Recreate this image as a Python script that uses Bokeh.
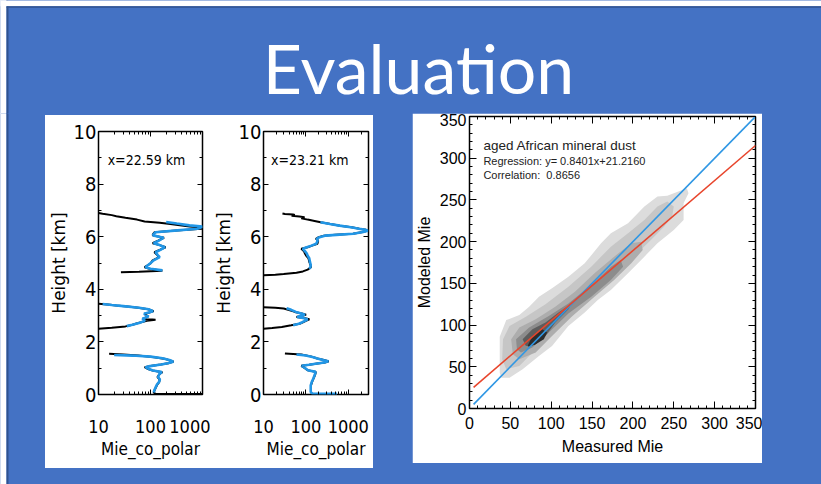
import numpy as np
from bokeh.plotting import figure
from bokeh.layouts import row, column
from bokeh.models import (Range1d, FixedTicker, NumeralTickFormatter, LinearAxis,
                          LogAxis, Label, Spacer, CustomJSTickFormatter)
from bokeh.embed import file_html
from bokeh.resources import INLINE
from bokeh.core.properties import value

nan = np.nan

# ---------------- slide text ----------------
title_text = "Evaluation"

# ---------------- backscatter profiles ----------------
# profile at x = 22.59 km : lidar (black) and model (blue), layers separated by NaN
p1_obs_h = [6.90, 6.87, 6.82, 6.78, 6.72, 6.65, 6.58, 6.53, 6.48, 6.43, 6.39, 6.34, 6.30, 6.24, 6.17,
            6.10, 6.05, 5.96, 5.85, 5.75, 5.68, 5.60, 5.50, 5.41, 5.30, 5.22, 5.10, 4.98, 4.84, 4.78,
            4.71, 4.67, 4.65, nan,
            3.45, 3.42, 3.38, 3.34, 3.30, 3.24, 3.17, 3.12, 3.07, 2.97, 2.92, 2.88, 2.84, 2.80, 2.72,
            2.65, 2.59, 2.54, 2.50, nan,
            1.55, 1.52, 1.48, 1.42, 1.35, 1.25, 1.19, 1.14, 1.08, 1.04, 0.97, 0.91, 0.85, 0.78, 0.66,
            0.57, 0.47, 0.38, 0.28, 0.15, 0.08, 0.03, 0.02]
p1_obs_mie = [10, 12, 18, 22, 33, 55, 77, 150, 241, 400, 567, 1050, 950, 316, 119,
              112, 110, 182, 140, 110, 150, 195, 150, 119, 135, 147, 110, 100, 77, 96,
              169, 60, 27, nan,
              10, 15, 22, 40, 58, 90, 115, 95, 77, 89, 80, 72, 125, 85, 58,
              45, 33, 18, 10, nan,
              16, 30, 58, 119, 195, 278, 220, 158, 100, 77, 90, 110, 169, 150, 136,
              150, 147, 135, 128, 119, 115, 125, 1000]
p1_mod_h = [6.56, 6.50, 6.43, 6.39, 6.34, 6.30, 6.24, 6.17, 6.10, 6.05, 5.96, 5.85, 5.75, 5.68, 5.60,
            5.50, 5.41, 5.30, 5.22, 5.10, 4.98, 4.84, 4.78, 4.72, nan,
            3.44, 3.40, 3.36, 3.30, 3.24, 3.17, 3.12, 3.07, 2.97, 2.88, 2.80, 2.72, 2.65, 2.60, nan,
            1.50, 1.48, 1.44, 1.38, 1.30, 1.25, 1.19, 1.14, 1.08, 1.04, 0.97, 0.91, 0.85, 0.78, 0.66,
            0.57, 0.47, 0.38, 0.28, 0.15, 0.08]
p1_mod_mie = [200, 320, 560, 1000, 900, 800, 330, 125, 115, 112, 178, 145, 115, 150, 190,
              155, 125, 138, 150, 115, 98, 80, 100, 170, nan,
              12, 18, 30, 60, 92, 112, 92, 75, 92, 70, 78, 60, 45, 35, nan,
              20, 45, 100, 170, 240, 275, 215, 160, 98, 80, 92, 112, 165, 148, 140,
              152, 145, 133, 126, 118, 116]

# profile at x = 23.21 km
p2_obs_h = [6.88, 6.86, 6.84, 6.83, 6.80, 6.77, 6.74, 6.70, 6.65, 6.60, 6.55, 6.48, 6.42, 6.36, 6.30,
            6.26, 6.23, 6.18, 6.11, 6.07, 6.04, 5.98, 5.92, 5.85, 5.73, 5.66, 5.60, 5.54, 5.45, 5.36,
            5.28, 5.18, 5.03, 4.93, 4.84, 4.75, 4.68, 4.63, 4.58, 4.55, 4.53, nan,
            3.32, 3.30, 3.27, 3.20, 3.14, 3.08, 3.03, 2.99, 2.95, 2.91, 2.86, 2.80, 2.74, 2.69, 2.63,
            2.57, 2.53, 2.50, nan,
            1.56, 1.54, 1.52, 1.45, 1.37, 1.30, 1.26, 1.22, 1.18, 1.13, 1.09, 1.00, 0.92, 0.86, 0.75,
            0.61, 0.48, 0.35, 0.22, 0.10, 0.05]
p2_obs_mie = [28, 32, 50, 55, 46, 70, 93, 78, 110, 160, 223, 380, 640, 1200, 1830,
              2600, 2900, 2200, 1290, 500, 266, 200, 172, 195, 187, 140, 110, 78, 90, 95,
              101, 115, 121, 128, 132, 110, 85, 60, 30, 19, 10, nan,
              10, 19, 30, 42, 55, 80, 101, 80, 60, 90, 121, 100, 85, 71, 45,
              27, 16, 10, nan,
              32, 50, 78, 130, 187, 280, 346, 280, 187, 120, 78, 95, 110, 172, 165,
              152, 140, 132, 132, 132, 135]
p2_mod_h = [6.55, 6.48, 6.42, 6.36, 6.30, 6.26, 6.23, 6.18, 6.11, 6.07, 6.04, 5.98, 5.92, 5.85, 5.73,
            5.66, 5.60, 5.54, 5.45, 5.36, 5.28, 5.18, 5.03, 4.93, 4.84, 4.78, nan,
            3.28, 3.22, 3.14, 3.08, 3.03, 2.99, 2.95, 2.91, 2.86, 2.80, 2.74, 2.69, 2.63, nan,
            1.52, 1.48, 1.42, 1.37, 1.30, 1.26, 1.22, 1.18, 1.13, 1.09, 1.00, 0.92, 0.86, 0.75, 0.61,
            0.48, 0.35, 0.22, 0.10, 0.04, 0.03]
p2_mod_mie = [220, 370, 620, 1150, 1800, 2600, 2900, 2250, 1300, 520, 280, 210, 180, 190, 175,
              135, 105, 85, 95, 105, 110, 120, 125, 130, 128, 120, nan,
              35, 45, 58, 78, 95, 78, 62, 85, 110, 95, 80, 68, 50, nan,
              60, 100, 150, 185, 270, 340, 275, 185, 118, 80, 97, 112, 170, 162, 150,
              138, 130, 130, 130, 140, 540]

profile_names = ["x=22.59 km", "x=23.21 km"]
profile_xmax = [1000, 3000]
height_ticks = [0, 2, 4, 6, 8, 10]
height_minor = [1, 3, 5, 7, 9]
mie_ticks = [10, 100, 1000]
mie_minor = [20, 30, 40, 50, 60, 70, 80, 90, 200, 300, 400, 500, 600, 700, 800, 900, 2000, 3000]

# ---------------- modelled vs measured density ----------------
# filled density levels, outermost first: (x = measured, y = modelled)
density_x = [
    [37, 45, 61, 73, 85, 101, 121, 141, 161, 173, 194, 214, 230, 242, 266, 268, 262, 262, 250, 230,
     214, 194, 173, 157, 141, 121, 101, 85, 65, 49, 39, 37],
    [40, 41, 49, 69, 93, 121, 149, 173, 194, 214, 230, 242, 250, 248, 238, 222, 201, 181, 157, 133,
     109, 85, 61, 45],
    [51, 61, 81, 105, 129, 153, 177, 198, 210, 212, 198, 177, 153, 125, 101, 81, 61, 53],
    [57, 73, 97, 121, 149, 173, 185, 188, 173, 149, 121, 97, 77, 63, 58],
    [65, 77, 93, 109, 125, 121, 105, 93, 81, 69],
    [71, 77, 89, 95, 91, 81, 73],
]
density_y = [
    [86, 106, 112, 122, 134, 144, 158, 174, 198, 210, 222, 242, 254, 255, 264, 258, 246, 226, 214, 198,
     182, 162, 142, 130, 115, 99, 75, 63, 47, 37, 37, 43],
    [59, 83, 99, 110, 125, 146, 170, 194, 210, 226, 242, 248, 242, 230, 218, 202, 182, 162, 142, 122,
     99, 75, 51, 47],
    [83, 97, 107, 122, 140, 162, 182, 198, 200, 190, 174, 154, 134, 110, 87, 67, 59, 65],
    [83, 97, 111, 126, 148, 170, 178, 170, 154, 134, 114, 91, 73, 67, 71],
    [83, 95, 103, 115, 126, 119, 103, 87, 77, 75],
    [75, 87, 95, 91, 83, 77, 74],
]
density_colors = ["#dcdcdc", "#c6c6c6", "#adadad", "#8c8c8c", "#5c5c5c", "#2c2c2c"]

reg_slope = 0.8401
reg_intercept = 21.2160
correlation = 0.8656
line_x = [5, 350]
axis_ticks = [0, 50, 100, 150, 200, 250, 300, 350]

SLIDE_BLUE = "#4472C4"
EDGE = "#2F528F"
COND = "DejaVu Sans Condensed"


def blank(width, height, x0, x1, y0, y1):
    f = figure(width=width, height=height, x_range=Range1d(x0, x1), y_range=Range1d(y0, y1),
               output_backend="svg", toolbar_location=None, min_border=0,
               background_fill_color=SLIDE_BLUE, border_fill_color=SLIDE_BLUE,
               outline_line_color=None)
    f.axis.visible = False
    f.grid.visible = False
    return f


# title strip with the slide's outer edge
title_fig = blank(821, 113, 0, 821, 113, 0)
title_fig.quad(left=[-2, -2, 6], right=[823, 6, 8], top=[-2, -2, 6], bottom=[5.7, 116, 116],
               fill_color=["white", "white", EDGE], line_color=None)
title_fig.quad(left=[6], right=[823], top=[5.7], bottom=[7.3], fill_color=EDGE, line_color=None)
title_fig.text(x=[418], y=[67], text=[title_text], text_font=value("Lato"), text_font_size="68px",
               text_color="white", text_align="center", text_baseline="alphabetic")

left_fig = blank(45, 371, 0, 45, 371, 0)
left_fig.quad(left=[-2, 6], right=[6, 8], top=[-3, -3], bottom=[374, 374],
              fill_color=["white", EDGE], line_color=None)

blank_labels = CustomJSTickFormatter(code="return '';")


def style_axis(ax, font, size):
    ax.major_tick_in = 5
    ax.major_tick_out = 0
    ax.minor_tick_in = 3
    ax.minor_tick_out = 0
    ax.axis_line_color = None
    ax.major_tick_line_color = "black"
    ax.minor_tick_line_color = "black"
    ax.major_label_text_font = font
    ax.major_label_text_font_size = size
    ax.major_label_text_color = "black"
    ax.axis_label_text_font_style = "normal"
    ax.axis_label_text_color = "black"


def tick_only_axis(cls, ticker):
    ax = cls(ticker=ticker, formatter=blank_labels, major_label_standoff=0)
    style_axis(ax, "Liberation Sans", "2px")
    ax.major_label_text_color = None
    return ax


def profile(width, left, right, xmax, obs_h, obs_mie, mod_h, mod_mie, name):
    p = figure(width=width, height=353, x_axis_type="log", x_range=Range1d(10, xmax),
               y_range=Range1d(0, 10), output_backend="svg", toolbar_location=None,
               min_border_left=left, min_border_right=right, min_border_top=16,
               min_border_bottom=74, background_fill_color="white", border_fill_color="white",
               outline_line_color="black", outline_line_width=1.5)
    p.grid.visible = False
    p.line(obs_mie, obs_h, line_color="black", line_width=2)
    p.line(mod_mie, mod_h, line_color="#2196e6", line_width=2.6)

    xt = FixedTicker(ticks=mie_ticks, minor_ticks=mie_minor)
    yt = FixedTicker(ticks=height_ticks, minor_ticks=height_minor)
    p.xaxis.ticker = xt
    p.xaxis.formatter = NumeralTickFormatter(format="0")
    p.yaxis.ticker = yt
    style_axis(p.xaxis[0], COND, "18px")
    style_axis(p.yaxis[0], COND, "20px")
    p.xaxis.major_label_standoff = 25
    p.xaxis.axis_label = "Mie_co_polar"
    p.xaxis.axis_label_text_font = COND
    p.xaxis.axis_label_text_font_size = "17px"
    p.xaxis.axis_label_standoff = 3
    p.yaxis.major_label_standoff = 2
    p.yaxis.axis_label = "Height [km]"
    p.yaxis.axis_label_text_font = "DejaVu Sans"
    p.yaxis.axis_label_text_font_size = "17px"
    p.yaxis.axis_label_standoff = 2

    p.add_layout(tick_only_axis(LogAxis, xt), "above")
    p.add_layout(tick_only_axis(LinearAxis, yt), "right")

    p.add_layout(Label(x=15, y=8.9, text=name, text_font=COND, text_font_size="14px",
                       text_baseline="alphabetic", text_color="black"))
    return p


prof1 = profile(165, 49, 8, profile_xmax[0], p1_obs_h, p1_obs_mie, p1_mod_h, p1_mod_mie,
                profile_names[0])
prof2 = profile(163, 49, 5, profile_xmax[1], p2_obs_h, p2_obs_mie, p2_mod_h, p2_mod_mie,
                profile_names[1])

# ---------------- scatter density panel ----------------
sc = figure(width=350, height=350, x_range=Range1d(0, 350), y_range=Range1d(0, 350),
            output_backend="svg", toolbar_location=None,
            min_border_left=54, min_border_right=7, min_border_top=3, min_border_bottom=55,
            background_fill_color="white", border_fill_color="white",
            outline_line_color="black", outline_line_width=1.5)
sc.grid.visible = False
sc.patches(xs=density_x, ys=density_y, fill_color=density_colors, line_color=None)

reg_y = [reg_slope * v + reg_intercept for v in line_x]
sc.line(line_x, line_x, line_color="#2f97e4", line_width=1.6)
sc.line(line_x, reg_y, line_color="#e8452c", line_width=1.6)

at = FixedTicker(ticks=axis_ticks, minor_ticks=list(range(0, 351, 10)))
for ax in sc.xaxis + sc.yaxis:
    ax.ticker = at
    style_axis(ax, "Liberation Sans", "16px")
    ax.major_tick_in = 7
    ax.axis_label_text_font = "Liberation Sans"
    ax.axis_label_text_font_size = "16px"
sc.xaxis.major_label_standoff = 8
sc.xaxis.axis_label = "Measured Mie"
sc.xaxis.axis_label_standoff = 6
sc.yaxis.major_label_standoff = 3
sc.yaxis.axis_label = "Modeled Mie"
sc.yaxis.axis_label_standoff = 4
for loc in ("above", "right"):
    ax = tick_only_axis(LinearAxis, at)
    ax.major_tick_in = 7
    sc.add_layout(ax, loc)

notes = ["aged African mineral dust",
         "Regression: y= %.4fx+%.4f" % (reg_slope, reg_intercept),
         "Correlation:\u00a0\u00a0%.4f" % correlation]
note_y = [315, 297, 280]
note_size = ["13.5px", "11px", "11px"]
for txt, yy, fs in zip(notes, note_y, note_size):
    sc.add_layout(Label(x=17, y=yy, text=txt, text_font="Liberation Sans", text_font_size=fs,
                        text_baseline="alphabetic", text_color="#222222"))

# page background: white margin and dark edge on the left, slide blue elsewhere
slide_bg = ("linear-gradient(to right, white 0px, white 6px, %s 6px, %s 8px, %s 8px)"
            % (EDGE, EDGE, SLIDE_BLUE))

layout = column(
    title_fig,
    row(left_fig,
        column(Spacer(width=328, height=2),
               row(prof1, prof2, styles={"background-color": "white"}),
               Spacer(width=328, height=16)),
        Spacer(width=39, height=371),
        column(sc, Spacer(width=350, height=21)),
        Spacer(width=59, height=371)),
    styles={"background": slide_bg},
)

open("out.html", "w").write(file_html(layout, INLINE))
